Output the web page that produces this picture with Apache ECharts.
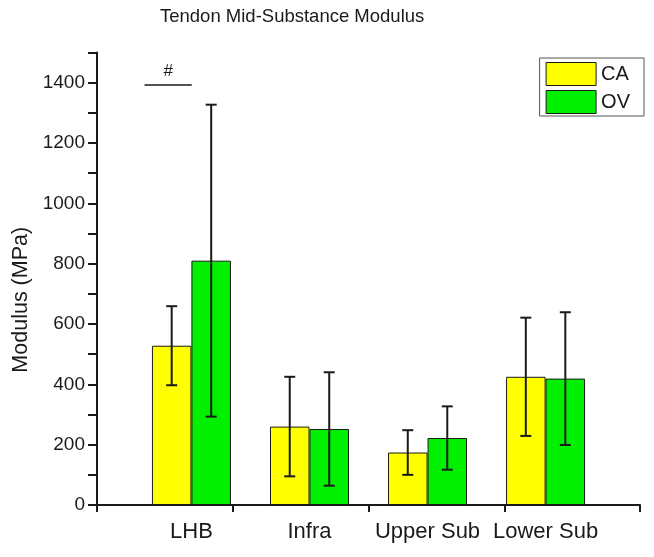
<!DOCTYPE html>
<html>
<head>
<meta charset="utf-8">
<script src="https://cdn.jsdelivr.net/npm/echarts@6/dist/echarts.min.js"></script>
<style>
html,body{margin:0;padding:0;background:#fff;}
#chart{width:654px;height:557px;}
</style>
</head>
<body>
<div id="chart"></div>
<script>
// ---- data ----
var categories = ['LHB', 'Infra', 'Upper Sub', 'Lower Sub'];
var caMean = [528, 260, 174, 425];
var caSD   = [131, 165, 74, 196];
var ovMean = [810, 252, 222, 419];
var ovSD   = [517, 188, 105, 220];
var yTicks = [0, 200, 400, 600, 800, 1000, 1200, 1400];
var sigLabel = '#';
var sigValue = 1392;
var sigFrom = -0.23, sigTo = 0.17;

var FONT = '"Liberation Sans", Arial, sans-serif';
var BAR_W = 39.5;
var INK = '#1a1a1a';

function pairs(means) { return means.map(function (v, i) { return [i, v]; }); }
function errData(means, sds) { return means.map(function (v, i) { return [i, v, sds[i]]; }); }

function errRender(offset) {
  return function (params, api) {
    var x = api.value(0), m = api.value(1), s = api.value(2);
    var top = api.coord([x, m + s]);
    var bot = api.coord([x, m - s]);
    var cx = top[0] + offset;
    var cap = 5.5;
    var st = { stroke: INK, lineWidth: 2 };
    return {
      type: 'group',
      children: [
        { type: 'line', shape: { x1: cx, y1: top[1], x2: cx, y2: bot[1] }, style: st },
        { type: 'line', shape: { x1: cx - cap, y1: top[1], x2: cx + cap, y2: top[1] }, style: st },
        { type: 'line', shape: { x1: cx - cap, y1: bot[1], x2: cx + cap, y2: bot[1] }, style: st }
      ]
    };
  };
}

var chart = echarts.init(document.getElementById('chart'), null, { renderer: 'canvas' });
chart.setOption({
  animation: false,
  backgroundColor: '#ffffff',
  title: {
    text: 'Tendon Mid-Substance Modulus',
    left: 160, top: 7, padding: 0,
    textStyle: { fontFamily: FONT, fontSize: 18.5, fontWeight: 'normal', color: INK }
  },
  legend: {
    orient: 'vertical',
    right: 10, top: 58,
    padding: [4, 14, 2, 6],
    borderColor: '#555', borderWidth: 1,
    itemWidth: 50, itemHeight: 23, itemGap: 4, itemTextGap: 9,
    icon: 'rect',
    itemStyle: { borderColor: INK, borderWidth: 1 },
    textStyle: { fontFamily: FONT, fontSize: 20, color: INK },
    data: ['CA', 'OV']
  },
  grid: { left: 97, right: 14, top: 52.5, bottom: 52, containLabel: false },
  xAxis: [
    {
      type: 'category',
      data: categories,
      position: 'bottom',
      boundaryGap: true,
      axisLine: { show: true, onZero: false, lineStyle: { color: INK, width: 2 } },
      axisTick: { show: true, length: 7, lineStyle: { color: INK, width: 2 } },
      axisLabel: { show: false },
      splitLine: { show: false }
    },
    {
      type: 'value',
      min: -0.8, max: 3.8,
      position: 'bottom',
      axisLine: { show: false, onZero: false },
      axisTick: { show: false },
      splitLine: { show: false },
      axisLabel: {
        show: true,
        customValues: [0, 1, 2, 3],
        margin: 16,
        fontFamily: FONT, fontSize: 22, color: INK,
        formatter: function (v) { return categories[Math.round(v)] || ''; }
      }
    }
  ],
  yAxis: {
    type: 'value',
    min: 0, max: 1500, interval: 100,
    position: 'left',
    name: 'Modulus (MPa)',
    nameLocation: 'middle',
    nameGap: 60,
    nameTextStyle: { fontFamily: FONT, fontSize: 21.5, color: INK, padding: [0, 42, 0, 0] },
    axisLine: { show: true, onZero: false, lineStyle: { color: INK, width: 2 } },
    axisTick: { show: true, length: 9, lineStyle: { color: INK, width: 2 } },
    splitLine: { show: false },
    axisLabel: {
      margin: 12,
      fontFamily: FONT, fontSize: 19, color: INK,
      formatter: function (v) { return yTicks.indexOf(v) >= 0 ? String(v) : ''; }
    }
  },
  series: [
    {
      name: 'CA', type: 'bar', xAxisIndex: 1,
      barWidth: BAR_W, barGap: '0%',
      itemStyle: { color: '#ffff00', borderColor: INK, borderWidth: 1 },
      data: pairs(caMean),
      markLine: {
        silent: true, symbol: 'none',
        lineStyle: { color: INK, width: 1.5, type: 'solid' },
        label: { show: true, position: 'insideMiddleTop', distance: 5, formatter: sigLabel,
                 fontFamily: FONT, fontSize: 17, color: INK },
        data: [[{ coord: [sigFrom, sigValue] }, { coord: [sigTo, sigValue] }]]
      }
    },
    {
      name: 'OV', type: 'bar', xAxisIndex: 1,
      barWidth: BAR_W, barGap: '0%',
      itemStyle: { color: '#00f000', borderColor: INK, borderWidth: 1 },
      data: pairs(ovMean)
    },
    {
      name: 'CA err', type: 'custom', xAxisIndex: 1, silent: true, z: 5,
      renderItem: errRender(-BAR_W / 2),
      data: errData(caMean, caSD)
    },
    {
      name: 'OV err', type: 'custom', xAxisIndex: 1, silent: true, z: 5,
      renderItem: errRender(BAR_W / 2),
      data: errData(ovMean, ovSD)
    }
  ]
});
</script>
</body>
</html>
